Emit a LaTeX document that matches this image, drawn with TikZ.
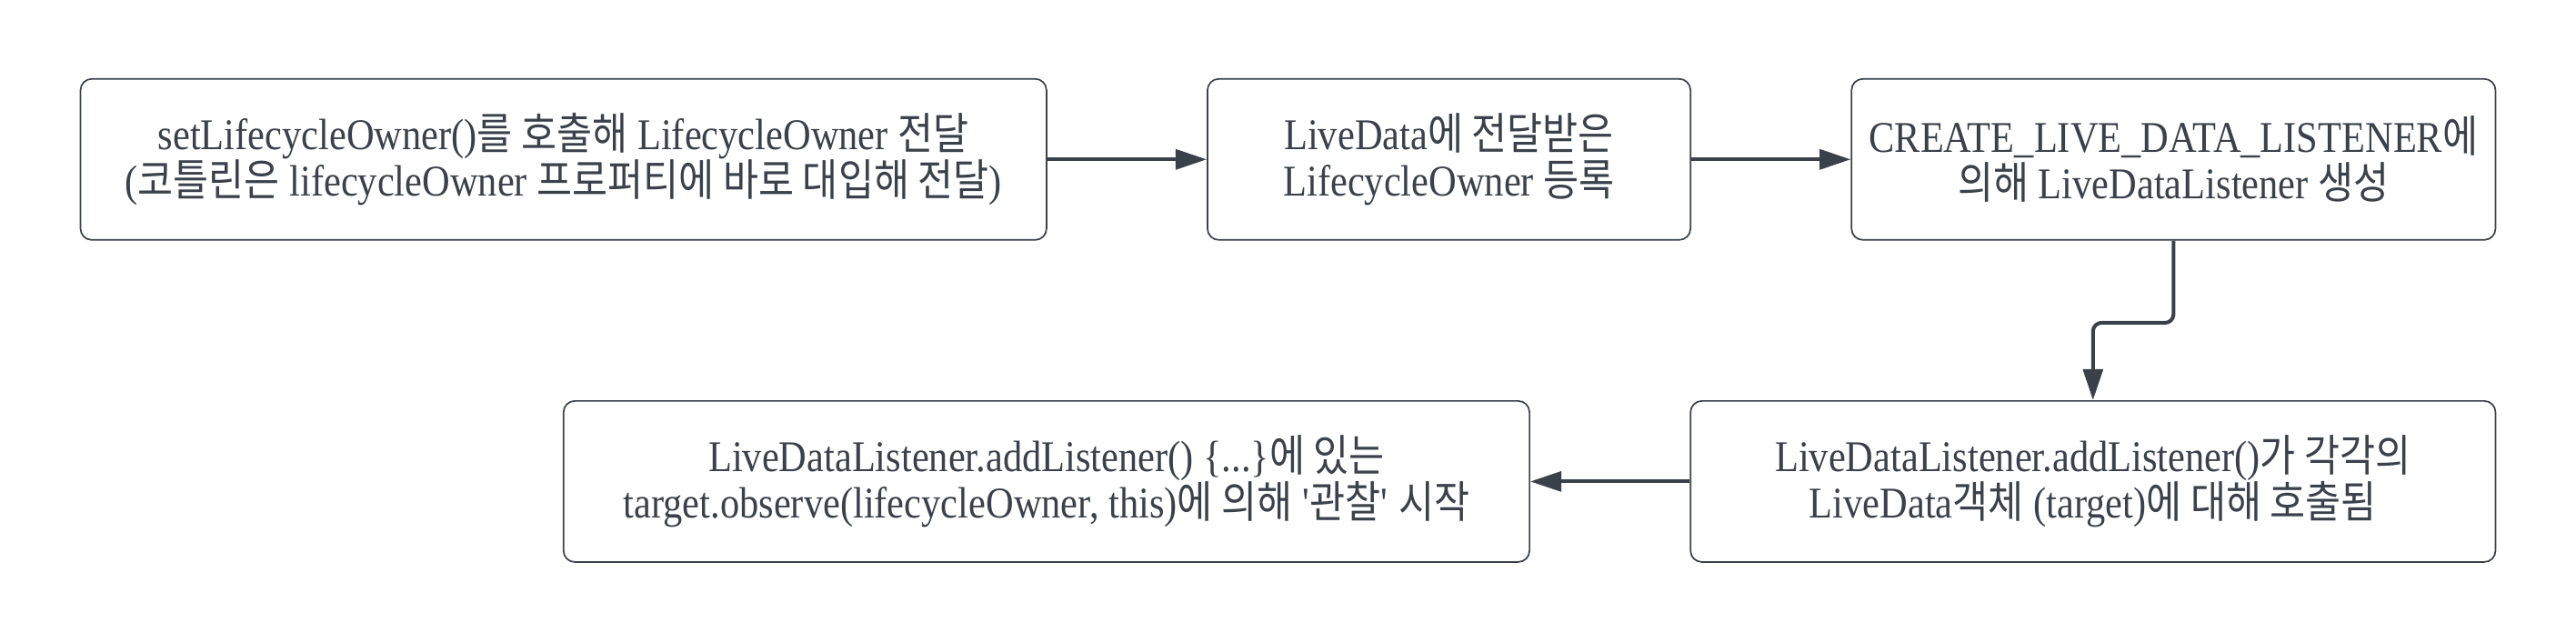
\documentclass[tikz,border=0pt]{standalone}
\usepackage{fontspec}
\setmainfont{Liberation Serif}[FakeStretch=0.88]
\newfontfamily\kr{Noto Sans CJK KR}[FakeStretch=0.88]
\usepackage{tikz}
\usepackage{xcolor}
\usetikzlibrary{arrows.meta}
\definecolor{ink}{HTML}{3A414A}

\begin{document}
\begin{tikzpicture}[
  box/.style={draw=ink,line width=0.55pt,rounded corners=4pt,text=ink,align=center,
    minimum height=2cm,inner sep=0pt,font=\fontsize{15.5}{16.4}\selectfont},
  flow/.style={draw=ink,line width=1.3pt,rounded corners=3pt,
    -{Triangle[length=11pt,width=7pt]}}]
\useasboundingbox (0,0) rectangle (32,-7.98);
\node[box,minimum width=12cm] (owner) at (7,-1.98)
  {setLifecycleOwner(){\kr 를 호출해} LifecycleOwner {\kr 전달}\\({\kr 코틀린은} lifecycleOwner {\kr 프로퍼티에 바로 대입해 전달})};
\node[box,minimum width=6cm] (register) at (18,-1.98)
  {LiveData{\kr 에 전달받은}\\LifecycleOwner {\kr 등록}};
\node[box,minimum width=8cm] (create) at (27,-1.98)
  {CREATE\_LIVE\_DATA\_LISTENER{\kr 에}\\{\kr 의해} LiveDataListener {\kr 생성}};
\node[box,minimum width=10cm] (call) at (26,-5.98)
  {LiveDataListener.addListener(){\kr 가 각각의}\\LiveData{\kr 객체} (target){\kr 에 대해 호출됨}};
\node[box,minimum width=12cm] (observe) at (13,-5.98)
  {LiveDataListener.addListener() \{...\}{\kr 에 있는}\\target.observe(lifecycleOwner, this){\kr 에 의해} \textquotesingle{\kr 관찰}\textquotesingle{} {\kr 시작}};
% flow
\draw[flow] (owner.east) -- (register.west);
\draw[flow] (register.east) -- (create.west);
\draw[flow] (create.south) -- ++(0,-1.02) -| (call.north);
\draw[flow] (call.west) -- (observe.east);
\end{tikzpicture}
\end{document}
